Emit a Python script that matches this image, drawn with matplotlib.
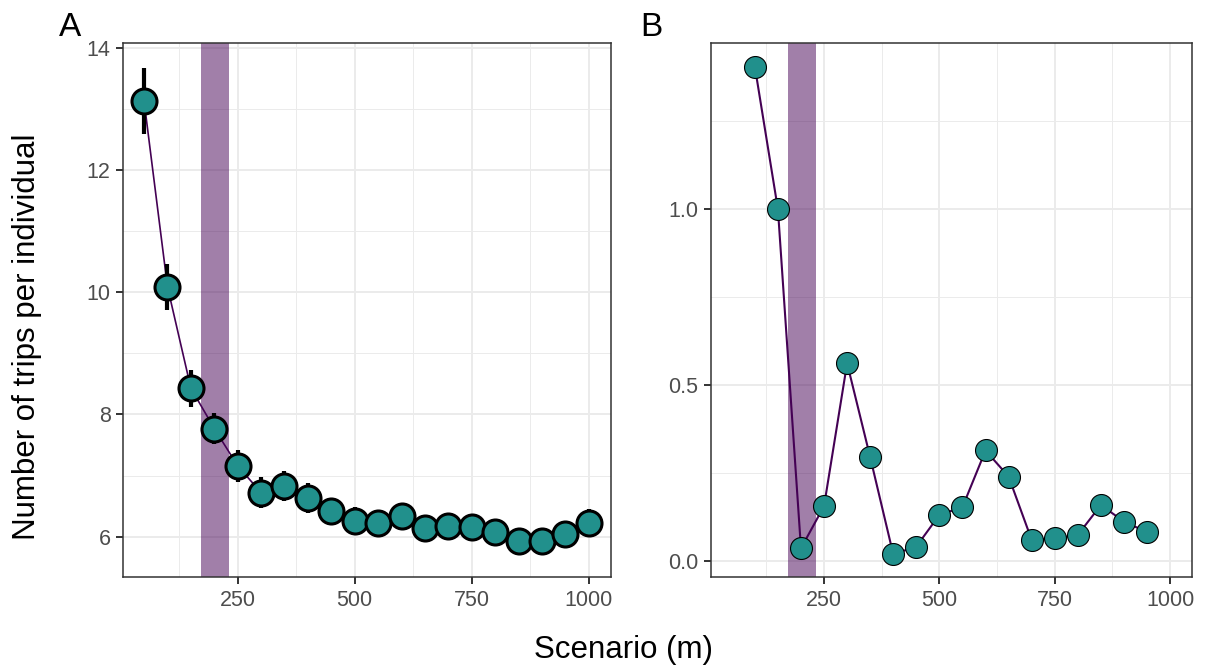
import matplotlib
matplotlib.use("Agg")
import matplotlib.pyplot as plt
from matplotlib.ticker import MultipleLocator, FixedLocator

plt.rcParams['font.family'] = ['Liberation Sans', 'DejaVu Sans']

# ---- data ----
scen_a = [50, 100, 150, 200, 250, 300, 350, 400, 450, 500,
          550, 600, 650, 700, 750, 800, 850, 900, 950, 1000]
trips_a = [13.13, 10.09, 8.43, 7.77, 7.16, 6.72, 6.83, 6.63, 6.42, 6.26,
           6.23, 6.34, 6.15, 6.18, 6.16, 6.08, 5.93, 5.93, 6.04, 6.23]
err_a = [0.54, 0.38, 0.30, 0.26, 0.26, 0.25, 0.24, 0.25, 0.21, 0.23,
         0.21, 0.21, 0.20, 0.20, 0.20, 0.20, 0.20, 0.20, 0.20, 0.23]

scen_b = [100, 150, 200, 250, 300, 350, 400, 450, 500,
          550, 600, 650, 700, 750, 800, 850, 900, 950]
diff_b = [1.405, 1.0, 0.036, 0.156, 0.562, 0.295, 0.019, 0.041, 0.131,
          0.153, 0.314, 0.240, 0.060, 0.064, 0.074, 0.159, 0.112, 0.082]

band = (172, 232)
xticks = [250, 500, 750, 1000]
yticks_a = [6, 8, 10, 12, 14]
yticks_b = [0.0, 0.5, 1.0]
ytick_labels_b = ["0.0", "0.5", "1.0"]

TEAL = "#21908C"
PURPLE = "#440154"
GRID = "#EBEBEB"
DARK = "#333333"
TXT = "#4D4D4D"

W, H = 1207, 667
fig = plt.figure(figsize=(W / 100, H / 100), dpi=100)

def rect(l, r, t, b):
    return [l / W, 1 - b / H, (r - l) / W, (b - t) / H]

axA = fig.add_axes(rect(123, 611, 43, 577))
axB = fig.add_axes(rect(711, 1192, 43, 577))

def style(ax):
    ax.set_facecolor("white")
    for s in ax.spines.values():
        s.set_color(DARK)
        s.set_linewidth(1.1)
    ax.grid(True, which="major", color=GRID, lw=1.4, zorder=0)
    ax.grid(True, which="minor", color=GRID, lw=0.7, zorder=0)
    ax.tick_params(which="major", length=5, width=1.4, color=DARK,
                   labelsize=15.5, labelcolor=TXT, pad=4)
    ax.tick_params(which="minor", length=0)
    ax.set_axisbelow(True)
    ax.xaxis.set_major_locator(FixedLocator(xticks))
    ax.xaxis.set_minor_locator(FixedLocator([125, 375, 625, 875]))
    ax.set_xlim(5, 1047.5)
    ax.axvspan(band[0], band[1], color=PURPLE, alpha=0.5, lw=0, zorder=1)

# Panel A
style(axA)
axA.set_ylim(5.34, 14.08)
axA.yaxis.set_major_locator(FixedLocator(yticks_a))
axA.yaxis.set_minor_locator(FixedLocator([7, 9, 11, 13]))
axA.plot(scen_a, trips_a, color=PURPLE, lw=1.2, zorder=2)
axA.errorbar(scen_a, trips_a, yerr=err_a, fmt="none", ecolor="black",
             elinewidth=3, capsize=0, zorder=3)
axA.plot(scen_a, trips_a, ls="none", marker="o", ms=18, mfc=TEAL,
         mec="black", mew=2.2, zorder=4)

# Panel B
style(axB)
axB.set_ylim(-0.0455, 1.472)
axB.yaxis.set_major_locator(FixedLocator(yticks_b))
axB.set_yticklabels(ytick_labels_b)
axB.yaxis.set_minor_locator(FixedLocator([0.25, 0.75, 1.25]))
axB.plot(scen_b, diff_b, color=PURPLE, lw=1.5, zorder=2)
axB.plot(scen_b, diff_b, ls="none", marker="o", ms=15.8, mfc=TEAL,
         mec="black", mew=0.8, zorder=4)

fig.text(70 / W, 1 - 28 / H, "A", fontsize=24, ha="center", va="center")
fig.text(651 / W, 1 - 28 / H, "B", fontsize=24, ha="center", va="center")
fig.text(624 / W, 1 - 650 / H, "Scenario (m)", fontsize=22.5,
         ha="center", va="center")
fig.text(27 / W, 1 - 337 / H, "Number of trips per individual",
         fontsize=22.5, rotation=90, ha="center", va="center")

fig.savefig("out.png", dpi=100)
